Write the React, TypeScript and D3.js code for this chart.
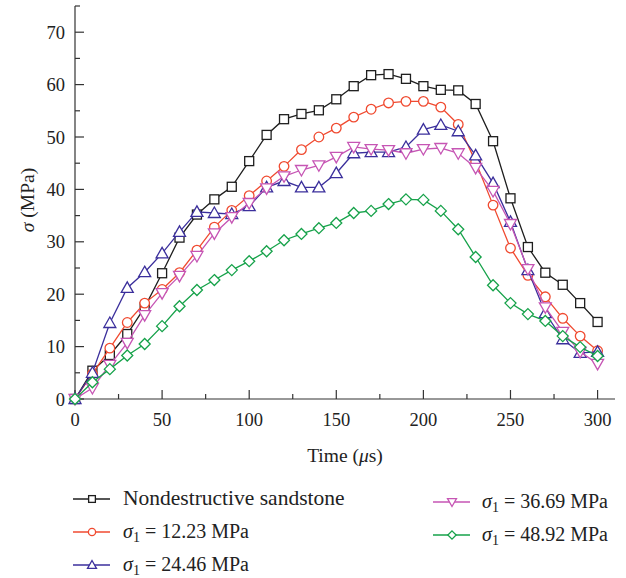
import React from "react";
import * as d3 from "d3";

// time axis (us)
const times = d3.range(0, 301, 10);

const nondestructive = [0, 5.4, 8.4, 12.4, 17.5, 24.0, 30.8, 35.2, 38.1, 40.5, 45.4, 50.4, 53.4, 54.4, 55.1, 57.2, 59.7, 61.8, 62.0, 61.1, 59.7, 59.0, 58.9, 56.3, 49.2, 38.3, 29.0, 24.1, 21.8, 18.3, 14.7];
const s1223 = [0, 4.8, 9.7, 14.6, 18.3, 20.9, 24.1, 28.4, 32.8, 36.0, 38.8, 41.6, 44.4, 47.6, 50.0, 51.7, 53.8, 55.3, 56.5, 56.8, 56.8, 55.7, 52.4, 45.3, 37.0, 28.8, 23.6, 19.5, 15.4, 12.0, 9.2];
const s2446 = [0, 5.0, 14.5, 21.2, 24.2, 27.8, 31.9, 35.7, 35.5, 35.3, 36.8, 40.4, 41.6, 40.4, 40.4, 43.1, 46.9, 47.1, 47.1, 48.1, 51.4, 52.3, 51.1, 46.5, 41.2, 33.8, 24.6, 16.4, 11.4, 8.8, 9.0];
const s3669 = [0, 2.1, 6.5, 10.7, 16.0, 20.2, 23.5, 27.3, 31.6, 34.7, 37.4, 40.2, 42.5, 43.7, 44.6, 46.2, 48.1, 47.7, 47.5, 46.9, 47.7, 47.9, 46.9, 44.1, 39.7, 33.4, 24.8, 17.5, 12.8, 9.0, 6.7];
const s4892 = [0, 3.2, 5.7, 8.3, 10.5, 13.9, 17.7, 20.8, 22.7, 24.6, 26.3, 28.2, 30.3, 31.5, 32.6, 33.6, 35.5, 35.9, 37.2, 38.1, 38.0, 35.9, 32.4, 27.1, 21.7, 18.3, 16.2, 14.9, 12.0, 9.9, 8.2];

const xTicks = [0, 50, 100, 150, 200, 250, 300];
const yTicks = [0, 10, 20, 30, 40, 50, 60, 70];

type Marker = "square" | "circle" | "triangle" | "triangleDown" | "diamond";

const series = [
  { name: "Nondestructive sandstone", sub: "", values: nondestructive, color: "#1e1e1e", marker: "square" as Marker },
  { name: "12.23", sub: "1", values: s1223, color: "#f04a30", marker: "circle" as Marker },
  { name: "24.46", sub: "1", values: s2446, color: "#3b2f9c", marker: "triangle" as Marker },
  { name: "36.69", sub: "1", values: s3669, color: "#c655b4", marker: "triangleDown" as Marker },
  { name: "48.92", sub: "1", values: s4892, color: "#16a24a", marker: "diamond" as Marker },
];

const W = 626;
const H = 578;
const x = d3.scaleLinear().domain([0, 310]).range([75, 615]);
const y = d3.scaleLinear().domain([0, 75]).range([399, 6]);

const FONT = "'Liberation Serif', 'DejaVu Serif', serif";

function MarkerShape({ kind, cx, cy, color, k = 1 }: { kind: Marker; cx: number; cy: number; color: string; k?: number }) {
  const common = { fill: "white", stroke: color, strokeWidth: 1.3 };
  if (kind === "square") return <rect x={cx - 4.5 * k} y={cy - 4.5 * k} width={9 * k} height={9 * k} {...common} />;
  if (kind === "circle") return <circle cx={cx} cy={cy} r={4.8 * k} {...common} />;
  if (kind === "triangle")
    return <path d={`M${cx},${cy - 6 * k} L${cx + 6 * k},${cy + 4.5 * k} L${cx - 6 * k},${cy + 4.5 * k} Z`} {...common} />;
  if (kind === "triangleDown")
    return <path d={`M${cx},${cy + 6 * k} L${cx + 6 * k},${cy - 4.5 * k} L${cx - 6 * k},${cy - 4.5 * k} Z`} {...common} />;
  return <path d={`M${cx},${cy - 5.5 * k} L${cx + 5.5 * k},${cy} L${cx},${cy + 5.5 * k} L${cx - 5.5 * k},${cy} Z`} {...common} />;
}

export default function App() {
  const line = d3
    .line<number>()
    .x((_, i) => x(times[i]))
    .y((d) => y(d));

  const minorX = d3.range(25, 310, 50);
  const minorY = d3.range(5, 76, 10);

  const legendPos = [
    { lx: 73, ly: 499, tx: 123 },
    { lx: 73, ly: 532, tx: 123 },
    { lx: 73, ly: 565, tx: 123 },
    { lx: 433, ly: 502, tx: 482 },
    { lx: 433, ly: 535, tx: 482 },
  ];

  return (
    <svg width={W} height={H} style={{ position: "absolute", left: 0, top: 0, background: "white" }} fontFamily={FONT}>
      {/* axes */}
      <line x1={x(0)} x2={x(310)} y1={y(0)} y2={y(0)} stroke="#333" strokeWidth={1.2} />
      <line x1={x(0)} x2={x(0)} y1={y(0)} y2={y(75)} stroke="#333" strokeWidth={1.2} />
      {xTicks.map((t) => (
        <g key={"xt" + t}>
          <line x1={x(t)} x2={x(t)} y1={y(0)} y2={y(0) - 9} stroke="#333" strokeWidth={1.2} />
          <text x={x(t)} y={426} textAnchor="middle" fontSize={18.5} fill="#222">{t}</text>
        </g>
      ))}
      {minorX.map((t) => (
        <line key={"xm" + t} x1={x(t)} x2={x(t)} y1={y(0)} y2={y(0) - 5} stroke="#333" strokeWidth={1.2} />
      ))}
      {yTicks.map((t) => (
        <g key={"yt" + t}>
          <line x1={x(0)} x2={x(0) + 9} y1={y(t)} y2={y(t)} stroke="#333" strokeWidth={1.2} />
          <text x={65} y={y(t) + 6.5} textAnchor="end" fontSize={18.5} fill="#222">{t}</text>
        </g>
      ))}
      {minorY.map((t) => (
        <line key={"ym" + t} x1={x(0)} x2={x(0) + 5} y1={y(t)} y2={y(t)} stroke="#333" strokeWidth={1.2} />
      ))}
      <text x={345} y={462} textAnchor="middle" fontSize={19.5} fill="#222">
        Time (<tspan fontStyle="italic">μ</tspan>s)
      </text>
      <text transform="translate(34,200) rotate(-90)" textAnchor="middle" fontSize={19.5} fill="#222">
        <tspan fontStyle="italic">σ</tspan> (MPa)
      </text>

      {/* series */}
      {series.map((s) => (
        <g key={s.name}>
          <path d={line(s.values) || ""} fill="none" stroke={s.color} strokeWidth={1.3} />
          {s.values.map((v, i) => (
            <MarkerShape key={i} kind={s.marker} cx={x(times[i])} cy={y(v)} color={s.color} />
          ))}
        </g>
      ))}

      {/* legend */}
      {series.map((s, i) => {
        const { lx, ly, tx } = legendPos[i];
        return (
          <g key={"lg" + s.name}>
            <line x1={lx} x2={lx + 37} y1={ly} y2={ly} stroke={s.color} strokeWidth={1.3} />
            <MarkerShape kind={s.marker} cx={lx + 19} cy={ly} color={s.color} k={0.75} />
            {s.sub === "" ? (
              <text x={tx} y={ly + 6} fontSize={21.5} fill="#222">{s.name}</text>
            ) : (
              <text x={tx} y={ly + 6} fontSize={20} fill="#222">
                <tspan fontStyle="italic">σ</tspan>
                <tspan fontSize={14} dy={3.5}>1</tspan>
                <tspan dy={-3.5}> = {s.name} MPa</tspan>
              </text>
            )}
          </g>
        );
      })}
    </svg>
  );
}
